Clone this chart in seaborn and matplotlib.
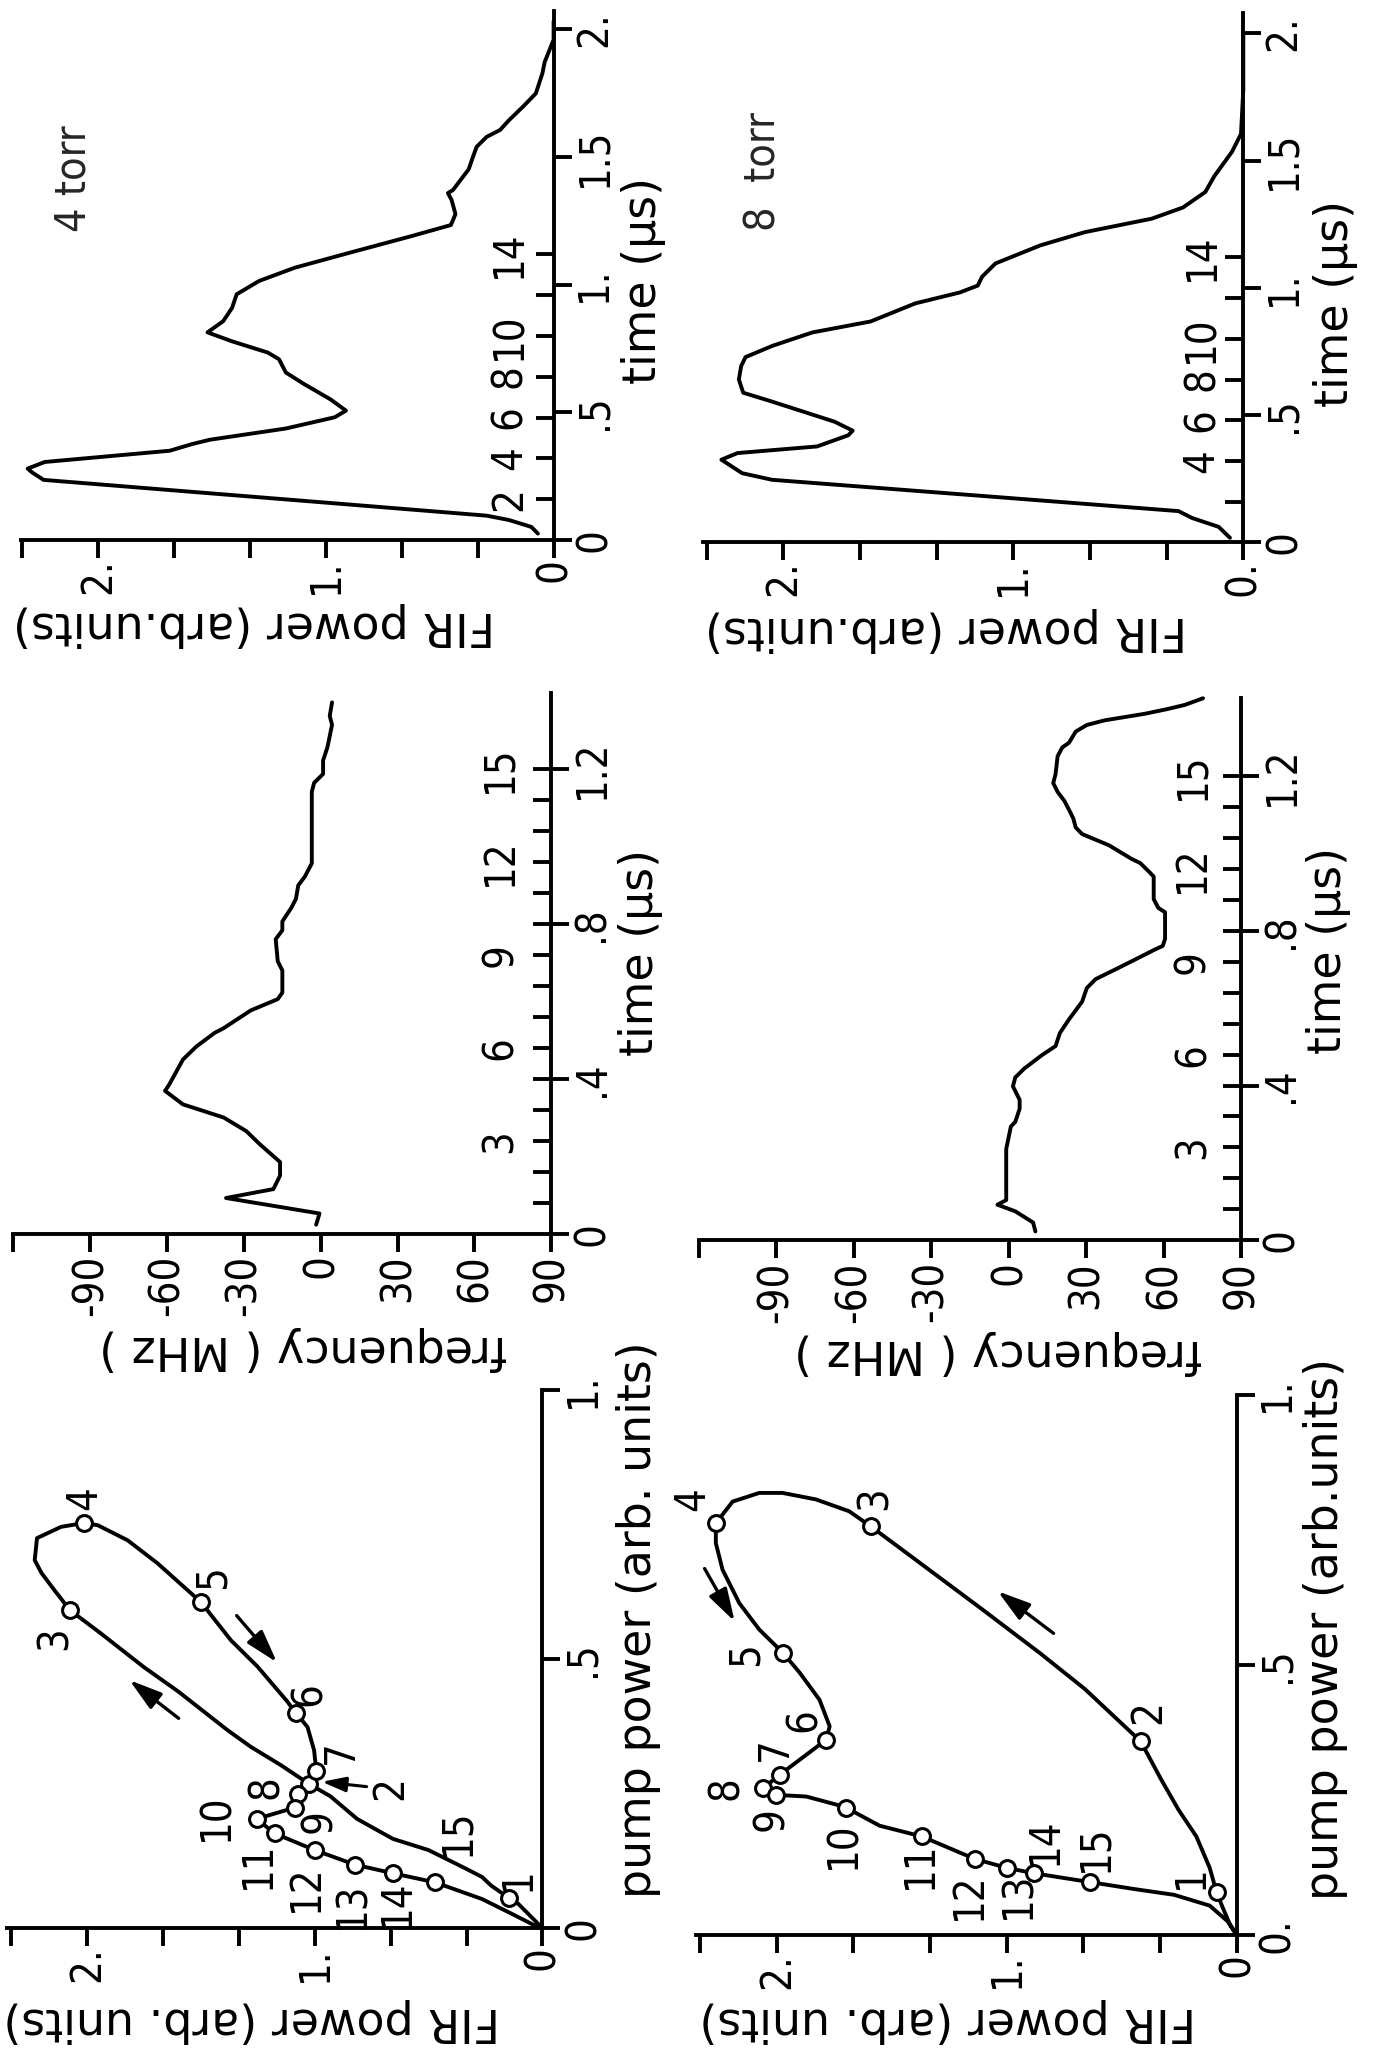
import matplotlib
matplotlib.use("Agg")
import matplotlib.pyplot as plt
import seaborn as sns
import pandas as pd

# ---------------- data ----------------
# 4 torr : FIR power vs time
fir4_time = [0.026, 0.052, 0.079, 0.096, 0.147, 0.19, 0.236, 0.265, 0.28, 0.306, 0.35, 0.376, 0.393,
             0.437, 0.481, 0.507, 0.551, 0.612, 0.656, 0.708, 0.734, 0.778, 0.813, 0.857, 0.909, 0.962,
             1.014, 1.066, 1.128, 1.189, 1.233, 1.276, 1.331, 1.358, 1.37, 1.451, 1.5, 1.539, 1.578,
             1.605, 1.643, 1.70, 1.748, 1.827, 1.871, 1.958, 2.03]
fir4_power = [0.069, 0.098, 0.196, 0.294, 1.0, 1.6, 2.24, 2.29, 2.31, 2.235, 1.686, 1.588, 1.51,
              1.176, 0.961, 0.912, 0.98, 1.098, 1.176, 1.206, 1.255, 1.412, 1.52, 1.451, 1.412, 1.392,
              1.294, 1.137, 0.882, 0.627, 0.451, 0.431, 0.448, 0.464, 0.442, 0.373, 0.354, 0.338, 0.294,
              0.235, 0.196, 0.13, 0.078, 0.049, 0.039, 0.0, 0.0]
# 8 torr : FIR power vs time
fir8_time = [0.018, 0.061, 0.096, 0.123, 0.185, 0.246, 0.272, 0.325, 0.351, 0.377, 0.421, 0.439, 0.474,
             0.553, 0.588, 0.64, 0.693, 0.728, 0.772, 0.825, 0.868, 0.939, 0.982, 1.009, 1.044, 1.096,
             1.167, 1.219, 1.272, 1.316, 1.377, 1.439, 1.535, 1.605, 1.78, 2.0]
fir8_power = [0.058, 0.107, 0.223, 0.282, 1.17, 2.05, 2.18, 2.27, 2.2, 1.854, 1.718, 1.699, 1.777,
              2.049, 2.175, 2.194, 2.184, 2.165, 2.049, 1.874, 1.621, 1.427, 1.233, 1.155, 1.136, 1.078,
              0.883, 0.689, 0.398, 0.262, 0.165, 0.126, 0.049, 0.01, 0.0, 0.0]
# 4 torr : frequency vs time
freq4_time = [0.023, 0.052, 0.092, 0.115, 0.15, 0.185, 0.231, 0.265, 0.30, 0.334, 0.369, 0.386, 0.45,
              0.484, 0.519, 0.531, 0.577, 0.606, 0.623, 0.68, 0.704, 0.761, 0.784, 0.807, 0.842, 0.865,
              0.90, 0.923, 0.957, 1.142, 1.165, 1.188, 1.223, 1.257, 1.315, 1.338, 1.373]
freq4_mhz = [-1.8, -0.5, -37, -18.5, -15.9, -15.9, -23.8, -29.1, -37.9, -53.8, -60.8, -59.1, -53.8,
             -48.5, -41.4, -37.9, -27.3, -16.8, -15, -15, -16.8, -17.6, -15, -15, -11.5, -9.7,
             -8.8, -6.2, -3.5, -3.5, -2.6, 0.9, 0.9, 2.6, 4.4, 3.5, 4.4]
# 8 torr : frequency vs time
freq8_time = [0.023, 0.046, 0.075, 0.092, 0.104, 0.236, 0.294, 0.306, 0.34, 0.363, 0.398, 0.421, 0.444,
              0.479, 0.502, 0.536, 0.571, 0.617, 0.652, 0.675, 0.698, 0.721, 0.75, 0.761, 0.779, 0.848,
              0.859, 0.882, 0.94, 0.952, 0.975, 0.986, 1.021, 1.05, 1.067, 1.09, 1.113, 1.136, 1.159,
              1.182, 1.205, 1.251, 1.274, 1.286, 1.315, 1.332, 1.344, 1.361, 1.373, 1.384, 1.401]
freq8_mhz = [10.4, 9.5, 2.6, -4.3, -0.9, -0.9, 0.9, 2.6, 4.3, 4.3, 1.7, 2.6, 6.1,
             13, 18.2, 19.9, 23.4, 28.5, 30.3, 33.7, 40.7, 47.6, 56.2, 59.7, 60.6, 60.6,
             58, 56.2, 56.2, 54.5, 51, 47.6, 38.9, 28.5, 26, 25.1, 23.4, 21.6, 19,
             17.3, 18.2, 19, 20.8, 23.4, 26, 30.3, 37.2, 52.8, 61.4, 68.3, 75.3]
# loops : FIR power vs pump power
loop4_fir = [0.0, 0.108, 0.147, 0.225, 0.265, 0.343, 0.5, 0.657, 0.814, 0.931, 1.025, 1.149, 1.281,
             1.383, 1.60, 1.75, 1.94, 2.075, 2.143, 2.20, 2.23, 2.22, 2.114, 2.015, 1.953, 1.822,
             1.69, 1.558, 1.5, 1.368, 1.251, 1.12, 1.083, 1.032, 1.003, 0.993, 1.073, 1.088, 1.255,
             1.176, 1.0, 0.824, 0.657, 0.471, 0.265, 0.127, 0.03, 0.0]
loop4_pump = [0.0, 0.046, 0.056, 0.079, 0.095, 0.112, 0.145, 0.166, 0.203, 0.245, 0.268, 0.303, 0.337,
              0.368, 0.44, 0.485, 0.548, 0.591, 0.628, 0.66, 0.684, 0.725, 0.746, 0.753, 0.749, 0.721,
              0.678, 0.628, 0.606, 0.535, 0.486, 0.421, 0.40, 0.374, 0.331, 0.292, 0.249, 0.224, 0.203,
              0.176, 0.145, 0.118, 0.102, 0.085, 0.054, 0.025, 0.004, 0.0]
loop4_pt_fir = [0.147, 1.025, 2.075, 2.015, 1.5, 1.083, 0.993, 1.073, 1.088, 1.255, 1.176, 1.0, 0.824, 0.657, 0.471]
loop4_pt_pump = [0.056, 0.268, 0.591, 0.753, 0.606, 0.40, 0.292, 0.249, 0.224, 0.203, 0.176, 0.145, 0.118, 0.102, 0.085]

loop8_fir = [0.0, 0.03, 0.06, 0.087, 0.117, 0.175, 0.252, 0.33, 0.417, 0.66, 0.854, 1.105, 1.395,
             1.591, 1.685, 1.83, 1.975, 2.076, 2.192, 2.265, 2.265, 2.236, 2.163, 2.076, 1.973, 1.90,
             1.814, 1.77, 1.785, 1.988, 2.06, 2.002, 1.872, 1.741, 1.697, 1.553, 1.369, 1.136, 1.0,
             0.883, 0.637, 0.45, 0.272, 0.117, 0.039, 0.0]
loop8_pump = [0.0, 0.02, 0.05, 0.0785, 0.124, 0.182, 0.231, 0.289, 0.358, 0.455, 0.521, 0.602, 0.694,
              0.756, 0.784, 0.806, 0.818, 0.818, 0.802, 0.762, 0.725, 0.676, 0.614, 0.565, 0.522, 0.485,
              0.435, 0.386, 0.361, 0.296, 0.271, 0.259, 0.256, 0.241, 0.235, 0.202, 0.182, 0.14, 0.124,
              0.114, 0.0975, 0.085, 0.074, 0.054, 0.025, 0.0]
loop8_pt_fir = [0.087, 0.417, 1.591, 2.265, 1.973, 1.785, 1.988, 2.06, 2.002, 1.697, 1.369, 1.136, 1.0, 0.883, 0.637]
loop8_pt_pump = [0.0785, 0.358, 0.756, 0.762, 0.522, 0.361, 0.296, 0.271, 0.259, 0.235, 0.182, 0.14, 0.124, 0.114, 0.0975]

point_names = ["1", "2", "3", "4", "5", "6", "7", "8", "9", "10", "11", "12", "13", "14", "15"]

# tick values / labels
power_ticks = [0, 1/3, 2/3, 1, 4/3, 5/3, 2, 7/3]
power_labels_a = ["0", "", "", "1.", "", "", "2.", ""]
power_labels_b = ["0.", "", "", "1.", "", "", "2.", ""]
time2_ticks = [0, 0.5, 1.0, 1.5, 2.0]
time2_labels = ["0", ".5", "1.", "1.5", "2."]
time2_pts = [0.16, 0.32, 0.48, 0.64, 0.80, 0.96, 1.12]
time2_pt_labels_4 = {0.16: "2", 0.32: "4", 0.48: "6", 0.64: "8", 0.80: "10", 1.12: "14"}
time2_pt_labels_8 = {0.32: "4", 0.48: "6", 0.64: "8", 0.80: "10", 1.12: "14"}
freq_ticks = [-120, -90, -60, -30, 0, 30, 60, 90]
freq_labels = ["", "-90", "-60", "-30", "0", "30", "60", "90"]
time1_ticks = [0, 0.4, 0.8, 1.2]
time1_labels = ["0", ".4", ".8", "1.2"]
time1_pts = [0.08, 0.16, 0.24, 0.32, 0.40, 0.48, 0.56, 0.64, 0.72, 0.80, 0.88, 0.96, 1.04, 1.12, 1.20]
time1_pt_labels = {0.24: "3", 0.48: "6", 0.72: "9", 0.96: "12", 1.20: "15"}
pump_ticks = [0, 0.5, 1.0]
pump_labels_a = ["0", ".5", "1."]
pump_labels_b = ["0.", ".5", "1."]

# ---------------- annotation placement ----------------
loop4_label_xy = [(0.108, 0.091), (0.667, 0.26), (2.143, 0.539), (2.013, 0.799), (1.45, 0.653),
                  (1.025, 0.436), (0.886, 0.328), (1.215, 0.2625), (0.98, 0.199), (1.431, 0.207),
                  (1.249, 0.116), (1.039, 0.075), (0.833, 0.043), (0.637, 0.047), (0.373, 0.178)]
loop8_label_xy = [(0.2, 0.107), (0.384, 0.413), (1.574, 0.808), (2.366, 0.806), (2.135, 0.519),
                  (1.88, 0.398), (2.009, 0.343), (2.22, 0.272), (2.025, 0.215), (1.709, 0.165),
                  (1.379, 0.128), (1.165, 0.072), (0.951, 0.074), (0.835, 0.174), (0.612, 0.161)]
loop4_arrows = [((1.598, 0.39), (1.814, 0.461)), ((1.343, 0.581), (1.166, 0.494))]
loop8_arrows = [((2.314, 0.678), (2.183, 0.580)), ((0.796, 0.558), (1.039, 0.636))]

# ---------------- style ----------------
sns.set_theme(style="white")
plt.rcParams["font.family"] = ["DejaVu Sans"]
plt.rcParams["font.stretch"] = "condensed"
LW = 2.8
TL = 13
TFS = 30
LFS = 33
NFS = 30

W, H = 1383, 2051
fig = plt.figure(figsize=(W / 100, H / 100), dpi=100)
fig.patch.set_facecolor("white")


def make_ax(x0, x1, ytop, ybot):
    return fig.add_axes([x0 / W, 1 - ybot / H, (x1 - x0) / W, (ybot - ytop) / H])


def setup(ax, xlim, ylim, xt, xtl, yt, ytl, minor=None, xpad=0, ypad=1):
    ax.set_xlim(*xlim)
    ax.set_ylim(*ylim)
    ax.set_facecolor("none")
    for s in ("top", "left"):
        ax.spines[s].set_visible(False)
    for s in ("right", "bottom"):
        ax.spines[s].set_visible(True)
        ax.spines[s].set_color("black")
        ax.spines[s].set_linewidth(LW)
    ax.xaxis.set_ticks_position("bottom")
    ax.yaxis.set_ticks_position("right")
    ax.yaxis.remove_overlapping_locs = False
    ax.set_xticks(xt)
    ax.set_xticklabels(xtl)
    ax.set_yticks(yt)
    ax.set_yticklabels(ytl)
    if minor is not None:
        ax.set_yticks(minor, minor=True)
    ax.tick_params(axis="x", which="major", direction="out", length=TL, width=LW, pad=xpad,
                   labelsize=TFS, labelrotation=90, color="black", labelcolor="black")
    ax.tick_params(axis="y", which="major", direction="out", length=TL, width=LW, pad=ypad,
                   labelsize=TFS, labelrotation=90, color="black", labelcolor="black")
    ax.tick_params(axis="y", which="minor", direction="in", length=TL, width=LW, color="black")
    for lab in ax.get_yticklabels():
        lab.set_va("center")
    ax.set_xlabel("")
    ax.set_ylabel("")


def curve(ax, x, y):
    df = pd.DataFrame({"x": x, "y": y})
    sns.lineplot(data=df, x="x", y="y", sort=False, estimator=None, ax=ax,
                 color="black", linewidth=LW, clip_on=False)


def pt_labels(ax, labels, off):
    for t, s in labels.items():
        ax.annotate(s, xy=(1, t), xycoords=ax.get_yaxis_transform(), xytext=(off, 0),
                    textcoords="offset points", rotation=90, ha="center", va="center",
                    fontsize=TFS, color="black")


def axis_text(ax, fx, fy, s, rot):
    ax.text(fx, fy, s, transform=ax.transAxes, rotation=rot, ha="center", va="center",
            fontsize=LFS, color="black", fontstretch="normal")


# ---- A: 4 torr FIR power vs time ----
axA = make_ax(20.8, 553.6, 11.1, 540.2)
curve(axA, fir4_power, fir4_time)
setup(axA, (2.34, 0), (0, 2.07), power_ticks, power_labels_a, time2_ticks, time2_labels, time2_pts)
pt_labels(axA, time2_pt_labels_4, -32)
axis_text(axA, 0.438, -0.160, "FIR power (arb.units)", 180)
axis_text(axA, 1.168, 0.49, "time (\u03bcs)", 90)
axA.text(2.107, 1.414, "4 torr", rotation=90, ha="center", va="center", fontsize=31)

# ---- B: 8 torr FIR power vs time ----
axB = make_ax(703, 1243.3, 13, 542.4)
curve(axB, fir8_power, fir8_time)
setup(axB, (2.35, 0), (0, 2.08), power_ticks, power_labels_b, time2_ticks, time2_labels, time2_pts)
pt_labels(axB, time2_pt_labels_8, -30)
axis_text(axB, 0.45, -0.164, "FIR power (arb.units)", 180)
axis_text(axB, 1.17, 0.452, "time (\u03bcs)", 90)
axB.text(2.088, 1.457, "8  torr", rotation=90, ha="center", va="center", fontsize=31)

# ---- C: 4 torr frequency vs time ----
axC = make_ax(13.4, 551.3, 693.5, 1233.6)
curve(axC, freq4_mhz, freq4_time)
setup(axC, (-120, 90), (0, 1.396), freq_ticks, freq_labels, time1_ticks, time1_labels, time1_pts, xpad=2)
pt_labels(axC, time1_pt_labels, -37)
axis_text(axC, 0.538, -0.212, "frequency ( MHz )", 180)
axis_text(axC, 1.165, 0.52, "time (\u03bcs)", 90)

# ---- D: 8 torr frequency vs time ----
axD = make_ax(698.6, 1241, 697.9, 1240.3)
curve(axD, freq8_mhz, freq8_time)
setup(axD, (-120, 90), (0, 1.402), freq_ticks, freq_labels, time1_ticks, time1_labels, time1_pts, xpad=2)
pt_labels(axD, time1_pt_labels, -35)
axis_text(axD, 0.552, -0.207, "frequency ( MHz )", 180)
axis_text(axD, 1.161, 0.535, "time (\u03bcs)", 90)


# ---- E / F: loops ----
def loop_panel(ax, fx, py, pfx, ppy, lab_xy, arrows, pump_labels):
    curve(ax, fx, py)
    sns.scatterplot(x=pfx, y=ppy, ax=ax, s=130, color="white", edgecolor="black",
                    linewidth=2.2, zorder=5, clip_on=False)
    for (x, y), s in zip(lab_xy, point_names):
        ax.text(x, y, s, rotation=90, ha="center", va="center", fontsize=NFS, color="black")
    for tail, head in arrows:
        ax.annotate("", xy=head, xytext=tail,
                    arrowprops=dict(arrowstyle="-|>,head_length=1.0,head_width=0.3",
                                    mutation_scale=20, lw=2.4, color="black",
                                    shrinkA=0, shrinkB=0))
    setup(ax, (2.35, 0), (0, 1.0), power_ticks, power_labels_a, pump_ticks, pump_labels)


axE = make_ax(7.4, 542.4, 1390.2, 1928.1)
loop_panel(axE, loop4_fir, loop4_pump, loop4_pt_fir, loop4_pt_pump, loop4_label_xy, loop4_arrows, pump_labels_a)
axE.annotate("", xy=(0.969, 0.272), xytext=(0.772, 0.263),
             arrowprops=dict(arrowstyle="-|>,head_length=0.8,head_width=0.25", mutation_scale=18,
                             lw=2.2, color="black", shrinkA=0, shrinkB=0))
axis_text(axE, 0.457, -0.171, "FIR power (arb. units)", 180)
axis_text(axE, 1.179, 0.573, "pump power (arb. units)", 90)

axF = make_ax(696.3, 1236.6, 1394.6, 1934.8)
loop_panel(axF, loop8_fir, loop8_pump, loop8_pt_fir, loop8_pt_pump, loop8_label_xy, loop8_arrows, pump_labels_b)
axis_text(axF, 0.466, -0.158, "FIR power (arb. units)", 180)
axis_text(axF, 1.165, 0.566, "pump power (arb.units)", 90)

fig.savefig("out.png", dpi=100, facecolor="white")
